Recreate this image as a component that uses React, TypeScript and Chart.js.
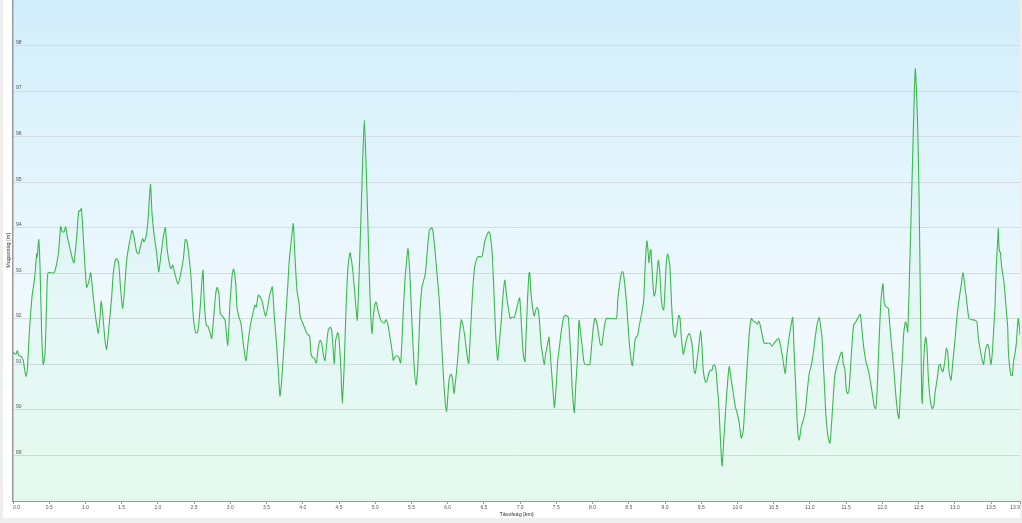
import React, { useEffect, useRef } from "react";
import { Chart, registerables } from "chart.js";

Chart.register(...registerables);

const distanceKm = [
  0.000,0.041,0.059,0.079,0.120,0.142,0.162,0.179,0.197,0.225,
  0.262,0.300,0.327,0.335,0.355,0.373,0.396,0.418,0.442,0.465,
  0.483,0.566,0.603,0.631,0.658,0.680,0.704,0.727,0.750,0.787,
  0.824,0.842,0.879,0.907,0.925,0.943,0.962,0.994,1.017,1.045,
  1.073,1.108,1.146,1.177,1.201,1.219,1.246,1.270,1.293,1.329,
  1.362,1.384,1.412,1.431,1.459,1.487,1.514,1.542,1.569,1.605,
  1.643,1.670,1.707,1.735,1.763,1.790,1.808,1.836,1.863,1.898,
  1.919,1.946,1.984,2.011,2.039,2.075,2.102,2.130,2.167,2.185,
  2.204,2.240,2.278,2.315,2.351,2.378,2.398,2.420,2.457,2.489,
  2.522,2.549,2.581,2.605,2.623,2.641,2.668,2.696,2.723,2.743,
  2.770,2.798,2.820,2.843,2.861,2.889,2.926,2.964,2.995,3.027,
  3.046,3.074,3.092,3.119,3.147,3.179,3.216,3.248,3.285,3.322,
  3.340,3.358,3.386,3.413,3.441,3.469,3.488,3.516,3.543,3.579,
  3.607,3.634,3.662,3.685,3.709,3.736,3.764,3.792,3.810,3.837,
  3.869,3.892,3.920,3.948,3.966,3.993,4.021,4.048,4.076,4.095,
  4.113,4.131,4.159,4.186,4.214,4.242,4.261,4.289,4.307,4.334,
  4.352,4.380,4.399,4.417,4.435,4.454,4.482,4.500,4.527,4.545,
  4.569,4.596,4.624,4.652,4.679,4.707,4.734,4.752,4.772,4.799,
  4.827,4.849,4.872,4.900,4.928,4.955,4.973,4.993,5.011,5.038,
  5.066,5.093,5.121,5.149,5.176,5.204,5.231,5.249,5.269,5.296,
  5.324,5.351,5.379,5.407,5.434,5.452,5.480,5.507,5.535,5.563,
  5.590,5.618,5.645,5.663,5.691,5.719,5.746,5.765,5.783,5.802,
  5.829,5.857,5.884,5.912,5.939,5.967,5.986,6.014,6.032,6.050,
  6.069,6.087,6.105,6.133,6.160,6.188,6.216,6.243,6.271,6.290,
  6.318,6.345,6.373,6.401,6.418,6.436,6.456,6.474,6.492,6.511,
  6.539,6.566,6.584,6.612,6.630,6.649,6.667,6.690,6.712,6.740,
  6.759,6.787,6.815,6.842,6.864,6.892,6.919,6.947,6.974,6.994,
  7.012,7.030,7.049,7.067,7.085,7.104,7.122,7.132,7.150,7.177,
  7.195,7.215,7.233,7.251,7.270,7.288,7.315,7.334,7.353,7.381,
  7.398,7.416,7.436,7.454,7.472,7.491,7.519,7.537,7.564,7.592,
  7.610,7.637,7.665,7.684,7.702,7.720,7.748,7.767,7.795,7.813,
  7.831,7.858,7.877,7.895,7.960,7.978,8.006,8.033,8.061,8.089,
  8.107,8.126,8.144,8.162,8.181,8.199,8.327,8.347,8.374,8.402,
  8.420,8.438,8.466,8.485,8.512,8.548,8.568,8.586,8.604,8.623,
  8.641,8.668,8.686,8.706,8.723,8.741,8.751,8.769,8.778,8.797,
  8.806,8.824,8.844,8.852,8.871,8.889,8.907,8.926,8.944,8.962,
  8.982,8.999,9.017,9.037,9.055,9.068,9.086,9.106,9.124,9.142,
  9.161,9.189,9.207,9.225,9.252,9.280,9.307,9.335,9.363,9.382,
  9.400,9.418,9.437,9.465,9.492,9.510,9.528,9.556,9.575,9.603,
  9.621,9.648,9.666,9.686,9.704,9.722,9.741,9.759,9.787,9.814,
  9.842,9.870,9.887,9.915,9.943,9.970,9.998,10.025,10.053,10.081,
  10.108,10.136,10.163,10.191,10.218,10.246,10.273,10.293,10.311,10.338,
  10.366,10.394,10.421,10.449,10.476,10.504,10.541,10.569,10.587,10.614,
  10.642,10.660,10.679,10.707,10.735,10.762,10.780,10.798,10.817,10.835,
  10.853,10.881,10.909,10.936,10.964,10.991,11.019,11.046,11.074,11.101,
  11.129,11.148,11.167,11.185,11.204,11.222,11.250,11.277,11.305,11.323,
  11.342,11.370,11.397,11.425,11.443,11.461,11.484,11.502,11.521,11.539,
  11.567,11.585,11.604,11.632,11.659,11.695,11.715,11.742,11.770,11.806,
  11.833,11.861,11.888,11.908,11.926,11.944,11.963,11.981,12.000,12.009,
  12.027,12.054,12.082,12.101,12.129,12.156,12.184,12.212,12.230,12.248,
  12.275,12.295,12.313,12.322,12.340,12.350,12.368,12.386,12.405,12.423,
  12.441,12.455,12.469,12.488,12.506,12.524,12.543,12.551,12.571,12.598,
  12.616,12.634,12.662,12.689,12.708,12.726,12.754,12.781,12.799,12.819,
  12.837,12.864,12.882,12.902,12.919,12.947,12.975,13.002,13.030,13.057,
  13.085,13.113,13.140,13.168,13.195,13.233,13.278,13.306,13.324,13.352,
  13.379,13.398,13.416,13.434,13.453,13.472,13.490,13.499,13.517,13.536,
  13.554,13.572,13.592,13.600,13.610,13.619,13.628,13.647,13.675,13.693,
  13.711,13.730,13.739,13.757,13.775,13.793,13.813,13.831,13.849,13.868,
  13.877,13.896,13.900,
];

const elevationM = [
  91.27,91.22,91.30,91.20,91.16,91.09,90.87,90.73,90.87,91.68,
  92.48,92.92,93.43,93.36,93.74,93.14,91.68,91.00,91.24,92.41,
  93.01,93.01,93.21,93.50,94.03,93.91,93.91,94.02,93.80,93.54,
  93.29,93.23,93.80,94.37,94.37,94.42,94.02,93.14,92.69,92.81,
  93.01,92.48,91.97,91.68,92.04,92.39,91.97,91.53,91.33,91.90,
  92.48,92.99,93.29,93.32,93.21,92.63,92.23,92.70,93.29,93.65,
  93.94,93.80,93.47,93.43,93.61,93.76,93.69,93.80,94.16,94.95,
  94.31,93.87,93.43,93.03,93.36,93.80,94.00,93.50,93.14,93.10,
  93.18,92.96,92.76,92.99,93.32,93.74,93.72,93.50,92.92,92.04,
  91.69,91.71,92.19,92.77,93.07,92.34,91.86,91.82,91.68,91.57,
  92.04,92.55,92.69,92.55,92.12,92.06,91.97,91.42,92.34,92.99,
  93.09,92.77,92.26,92.04,91.90,91.46,91.08,91.53,91.93,92.19,
  92.30,92.26,92.52,92.48,92.37,92.15,92.06,92.26,92.52,92.70,
  92.04,91.53,90.87,90.30,90.65,91.31,92.04,92.70,93.21,93.65,
  94.09,93.36,92.63,92.34,92.04,91.93,91.82,91.71,91.64,91.62,
  91.24,91.16,91.13,91.03,91.38,91.53,91.46,91.16,91.08,91.53,
  91.75,91.82,91.75,91.38,91.02,91.53,91.70,91.57,90.87,90.14,
  90.87,92.19,93.14,93.45,93.21,92.77,92.26,91.97,92.70,94.02,
  95.48,96.37,95.48,94.02,92.48,91.68,92.04,92.30,92.37,92.19,
  92.01,91.93,91.91,91.98,91.86,91.60,91.31,91.09,91.16,91.19,
  91.16,91.03,91.90,92.77,93.29,93.54,92.92,91.90,91.02,90.54,
  91.02,92.19,92.70,92.81,92.99,93.50,93.94,93.98,94.00,93.87,
  93.43,92.92,92.41,91.60,90.80,90.14,89.97,90.58,90.76,90.78,
  90.65,90.36,90.58,91.02,91.60,91.98,91.82,91.53,91.16,91.02,
  91.82,92.63,93.14,93.32,93.36,93.37,93.36,93.37,93.50,93.69,
  93.83,93.91,93.87,93.50,92.92,92.19,91.53,91.09,91.46,91.97,
  92.41,92.85,92.48,92.19,92.01,92.04,92.03,92.19,92.37,92.46,
  92.04,91.53,91.16,91.06,91.75,92.48,92.99,93.02,92.55,92.19,
  92.06,92.19,92.25,92.19,91.90,91.46,91.16,91.00,91.24,91.46,
  91.60,91.24,90.80,90.43,90.05,90.36,91.09,91.31,91.68,91.97,
  92.06,92.07,92.03,91.60,91.09,90.43,89.94,90.51,91.24,91.97,
  91.75,91.38,91.09,91.00,91.00,91.24,91.75,92.01,91.90,91.60,
  91.44,91.42,91.60,91.82,91.97,92.01,92.01,92.41,92.77,93.03,
  93.03,92.85,92.41,91.97,91.38,90.97,91.24,91.53,91.60,91.64,
  91.82,92.04,92.19,92.41,93.07,93.58,93.71,93.43,93.23,93.50,
  93.52,92.99,92.55,92.50,92.63,92.99,93.29,93.07,92.55,92.26,
  92.19,92.63,93.21,93.42,93.29,93.14,92.48,91.90,91.64,91.60,
  91.75,92.08,92.01,91.60,91.22,91.42,91.60,91.68,91.53,91.31,
  90.87,90.80,91.02,91.38,91.75,91.38,90.87,90.62,90.62,90.80,
  90.87,90.87,90.98,90.98,90.87,90.51,90.14,89.56,88.77,89.41,
  90.14,90.73,90.95,90.65,90.36,90.07,89.92,89.70,89.38,89.56,
  90.29,91.02,91.68,92.01,91.95,91.93,91.88,91.95,91.88,91.68,
  91.47,91.46,91.47,91.46,91.40,91.46,91.53,91.57,91.46,91.24,
  90.95,90.80,91.16,91.53,91.82,92.03,91.38,90.73,90.00,89.48,
  89.34,89.63,89.78,89.96,90.43,90.80,90.98,91.24,91.60,91.90,
  92.03,91.82,91.60,91.02,90.43,89.85,89.41,89.27,89.85,90.29,
  90.73,90.95,91.09,91.24,91.27,91.02,90.87,90.43,90.36,90.43,
  91.09,91.53,91.86,91.93,92.01,92.10,91.82,91.38,91.09,90.87,
  90.65,90.36,90.07,90.03,90.36,91.09,91.82,92.41,92.70,92.77,
  92.34,92.26,92.23,91.90,91.38,90.95,90.36,89.92,89.81,90.36,
  91.09,91.68,91.90,91.93,91.82,91.71,92.55,93.65,94.75,95.84,
  96.94,97.49,97.09,96.21,94.75,92.55,90.36,90.14,91.09,91.60,
  91.38,90.73,90.21,90.03,90.07,90.36,90.65,90.98,91.00,90.87,
  90.84,91.09,91.35,91.27,90.87,90.65,91.09,91.53,92.04,92.41,
  92.70,93.02,92.70,92.34,92.01,91.98,91.97,91.93,91.60,91.31,
  91.09,91.00,91.24,91.38,91.44,91.35,91.09,91.00,91.24,91.75,
  92.26,93.14,93.72,93.98,93.58,93.47,93.47,93.14,92.85,92.55,
  92.19,91.82,91.31,90.95,90.76,90.76,91.09,91.24,91.46,91.90,
  92.01,91.75,91.64,
];

const yTickValues = [89, 90, 91, 92, 93, 94, 95, 96, 97, 98];
const xTickValues = [
  0.0, 0.5, 1.0, 1.5, 2.0, 2.5, 3.0, 3.5, 4.0, 4.5, 5.0, 5.5, 6.0, 6.5, 7.0,
  7.5, 8.0, 8.5, 9.0, 9.5, 10.0, 10.5, 11.0, 11.5, 12.0, 12.5, 13.0, 13.5, 13.9,
];
const xMin = 0;
const xMax = 13.9;
const yMin = 88;
const yMax = 99;
const xTitle = "Távolság [km]";
const yTitle = "Magasság [m]";

export default function App() {
  const ref = useRef<HTMLCanvasElement>(null);

  useEffect(() => {
    document.body.style.margin = "0";
    Chart.defaults.font.family = "'Liberation Sans', Arial, sans-serif";

    const bgPlugin = {
      id: "bgPlugin",
      beforeDraw(chart: any) {
        const { ctx, chartArea: a, width, height } = chart;
        ctx.save();
        ctx.fillStyle = "#eeeeee";
        ctx.fillRect(0, 0, width, height);
        ctx.fillStyle = "#ffffff";
        ctx.fillRect(3, 0, 1017, 518);
        const g = ctx.createLinearGradient(0, a.top, 0, a.bottom);
        g.addColorStop(0, "#d1eefa");
        g.addColorStop(0.62, "#f0f9fe");
        g.addColorStop(1, "#eefbf5");
        ctx.fillStyle = g;
        ctx.fillRect(a.left, a.top, a.right - a.left, a.bottom - a.top);
        ctx.restore();
      },
    };

    const chart = new Chart(ref.current as HTMLCanvasElement, {
      type: "line",
      data: {
        datasets: [
          {
            data: distanceKm.map((d, i) => ({ x: d, y: elevationM[i] })),
            borderColor: "#3cb84e",
            borderWidth: 1.1,
            pointRadius: 0,
            fill: "start",
            backgroundColor: "rgba(80,210,120,0.055)",
            tension: 0.2,
          },
        ],
      },
      options: {
        responsive: false,
        animation: false,
        devicePixelRatio: 1,
        layout: { padding: { left: 2, right: 2, top: 0, bottom: 4 } },
        plugins: { legend: { display: false }, tooltip: { enabled: false } },
        scales: {
          x: {
            type: "linear",
            min: xMin,
            max: xMax,
            afterBuildTicks: (s: any) => {
              s.ticks = xTickValues.map((v) => ({ value: v }));
            },
            afterFit: (s: any) => {
              s.height = 18;
              s.paddingLeft = 0;
              s.paddingRight = 0;
            },
            ticks: {
              autoSkip: false,
              maxRotation: 0,
              padding: 1,
              align: "inner",
              color: "#555",
              font: { size: 5 },
              callback: (v: any) => Number(v).toFixed(1),
            },
            grid: {
              drawOnChartArea: false,
              drawTicks: true,
              tickLength: 3,
              color: "#999",
            },
            border: { display: true, color: "#999", width: 1 },
            title: {
              display: true,
              text: xTitle,
              color: "#333",
              font: { size: 5.5 },
              padding: { top: 0, bottom: 1 },
            },
          },
          y: {
            type: "linear",
            min: yMin,
            max: yMax,
            afterBuildTicks: (s: any) => {
              s.ticks = yTickValues.map((v) => ({ value: v }));
            },
            afterFit: (s: any) => {
              s.width = 11;
              s.paddingTop = 0;
              s.paddingBottom = 0;
            },
            ticks: {
              mirror: true,
              padding: 3,
              labelOffset: -3,
              color: "#555",
              font: { size: 5 },
            },
            grid: { drawTicks: false, color: "#d3dde1", lineWidth: 1 },
            border: { display: true, color: "#999", width: 1.5 },
            title: {
              display: true,
              text: yTitle,
              color: "#333",
              font: { size: 5.5 },
              padding: { top: 3.5, bottom: 0 },
            },
          },
        },
      },
      plugins: [bgPlugin],
    } as any);

    return () => chart.destroy();
  }, []);

  return <canvas ref={ref} width={1022} height={523} style={{ display: "block" }} />;
}
